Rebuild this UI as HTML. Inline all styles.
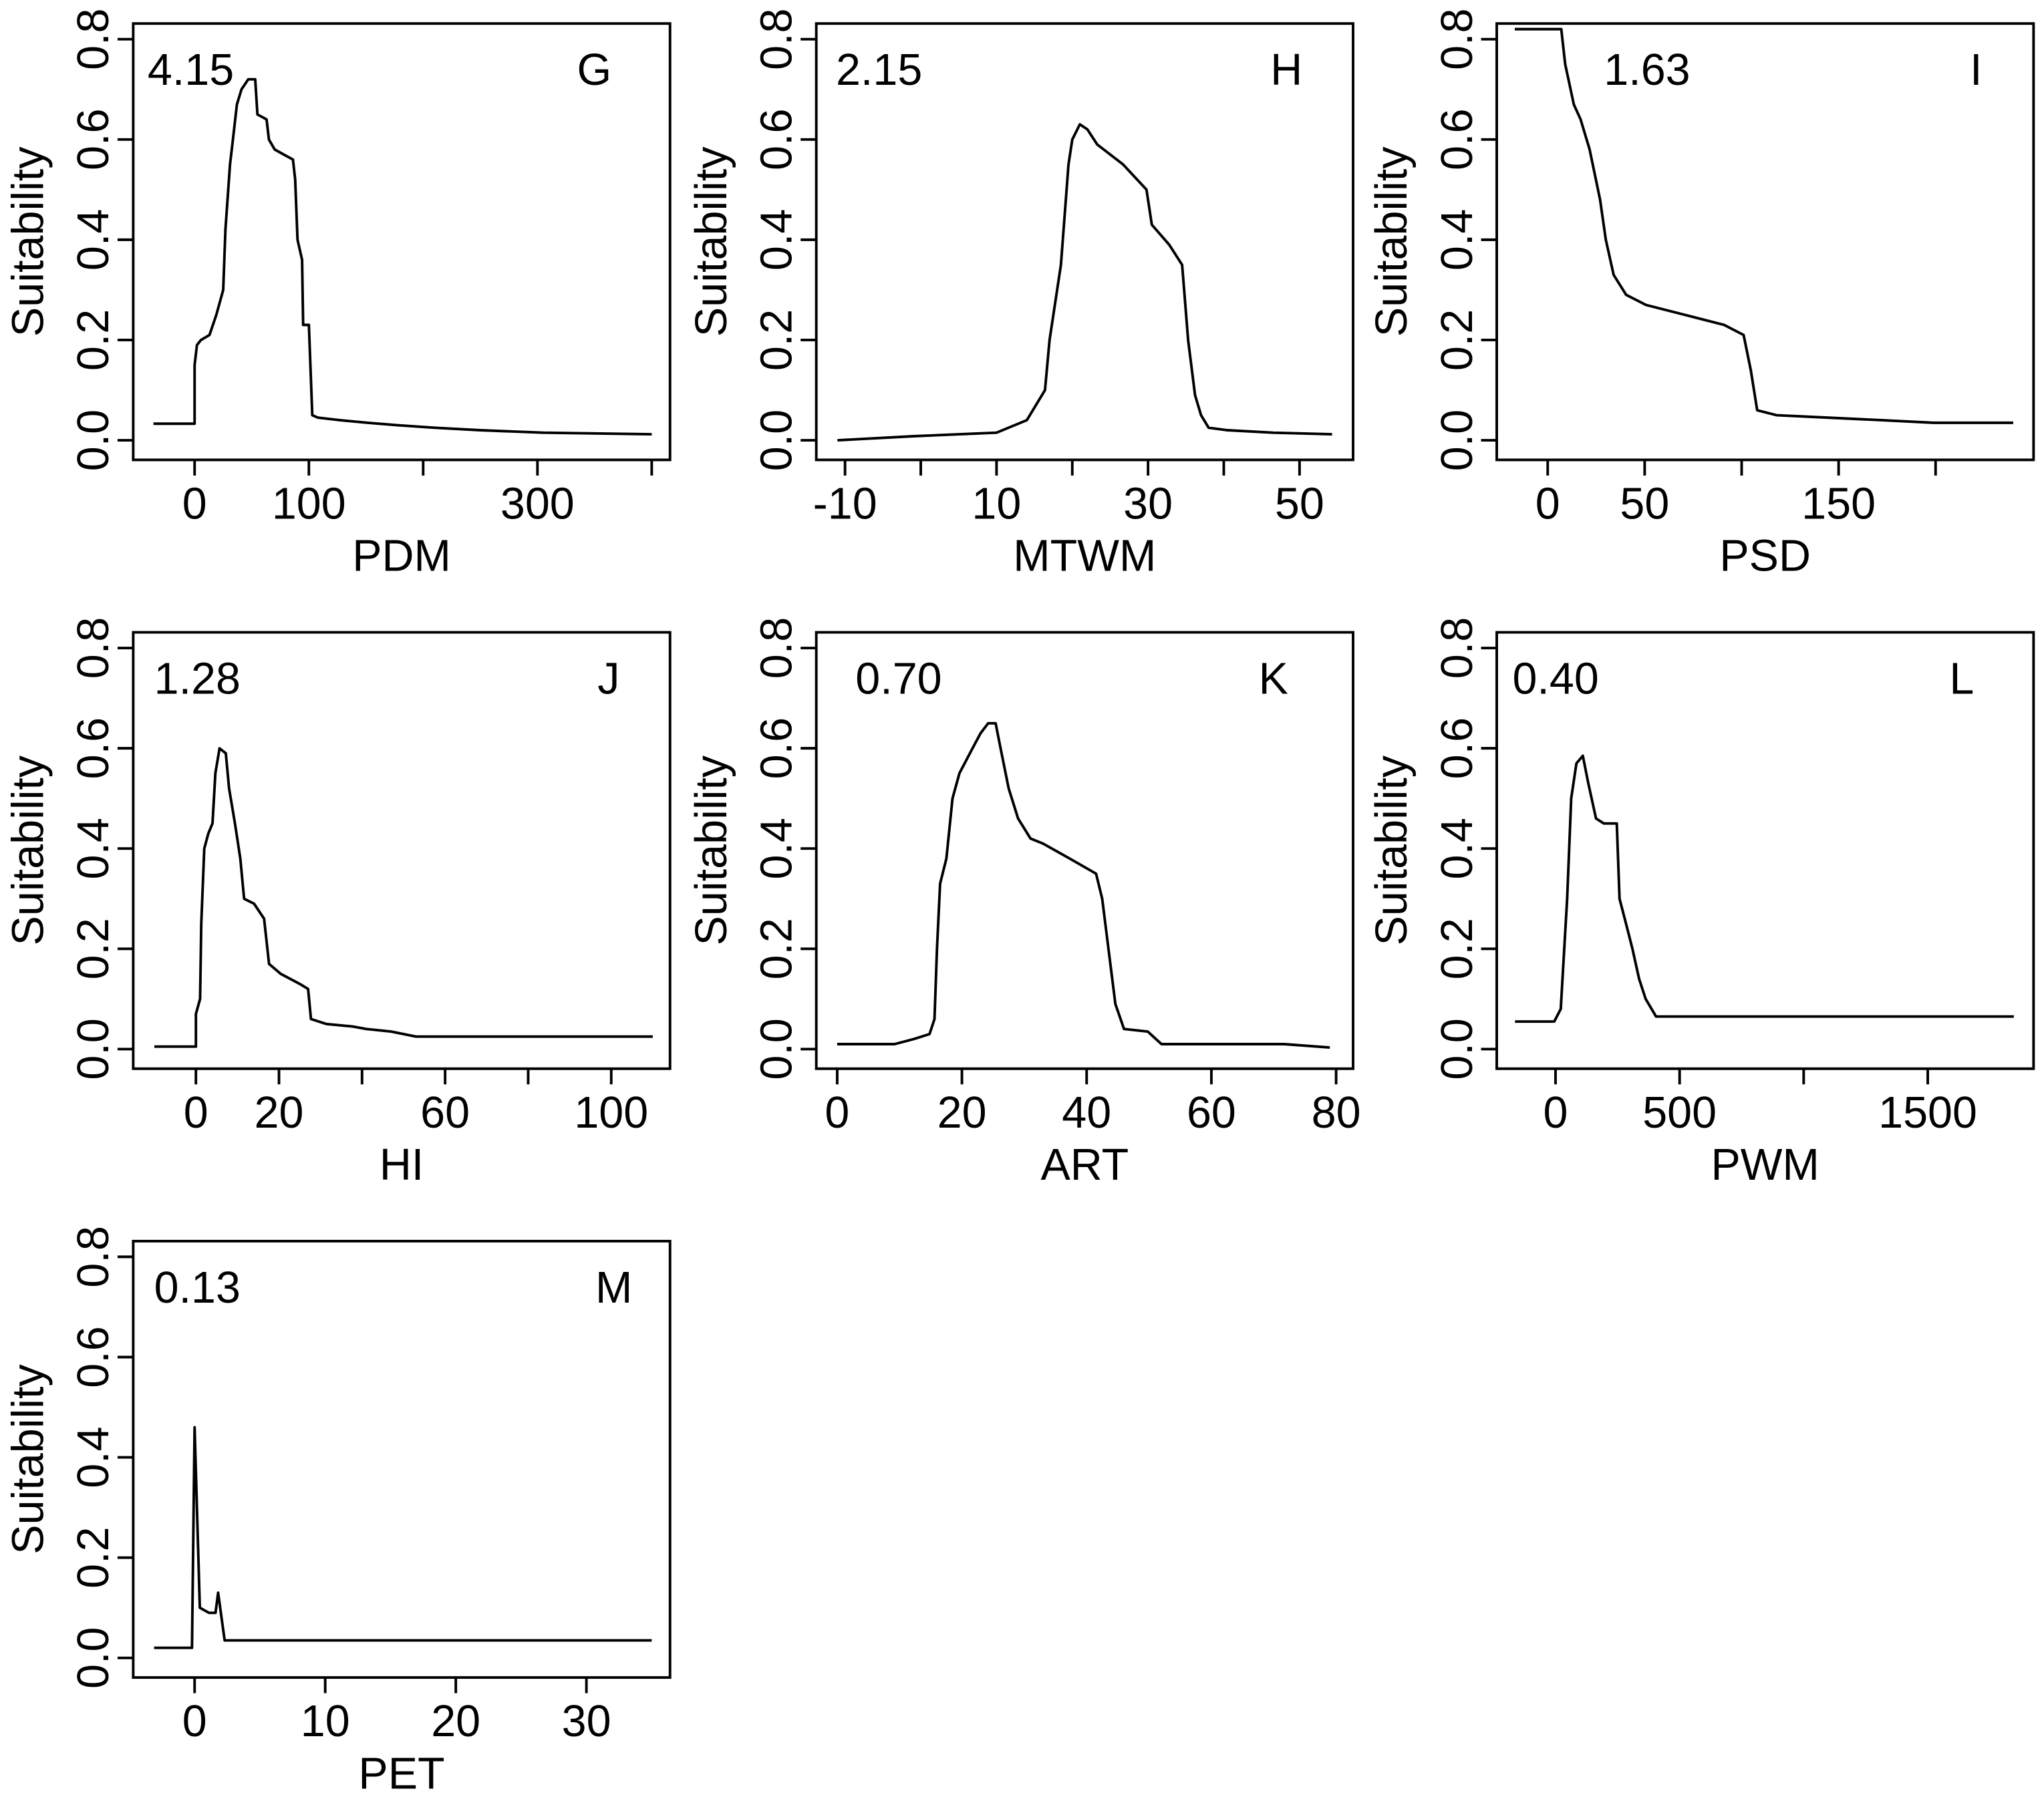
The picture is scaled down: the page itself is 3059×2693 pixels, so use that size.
<!DOCTYPE html>
<html><head><meta charset="utf-8"><style>
html,body{margin:0;padding:0;background:#fff;}
svg{display:block;font-family:"Liberation Sans",Arial,sans-serif;}
</style></head><body>
<svg id="chart" width="3059" height="2693" viewBox="0 0 1565 1377" preserveAspectRatio="none" xmlns="http://www.w3.org/2000/svg"></svg>
<script>
const yTicks = [0, 0.2, 0.4, 0.6, 0.8];
const yTickLabels = ["0.0", "0.2", "0.4", "0.6", "0.8"];

const pdmX = [-36,0,0,2,5.5,13,19,25,27,31,33,37,41,47,53,55,63,65,70,78,86,88,90,94,95,100,103,108,127,151,178,210,250,305,400];
const pdmY = [0.033,0.033,0.15,0.19,0.2,0.21,0.25,0.3,0.42,0.55,0.59,0.67,0.7,0.72,0.72,0.65,0.64,0.6,0.58,0.57,0.56,0.52,0.4,0.36,0.23,0.23,0.05,0.045,0.04,0.035,0.03,0.025,0.02,0.015,0.012];
const mtwmX = [-11,-1,10,14,16.4,17,18.5,19.5,20,21,22,23.3,26.7,29.8,30.5,32.8,34.5,35.3,36.2,37,38,40.5,46.5,54.3];
const mtwmY = [0,0.008,0.015,0.04,0.1,0.2,0.35,0.55,0.6,0.63,0.62,0.59,0.55,0.5,0.43,0.39,0.35,0.2,0.09,0.05,0.025,0.02,0.015,0.012];
const psdX = [-17,7,9,13.5,17,21.6,27,30,34,40.5,50.7,71,91,101,104.7,108,118,145,172,199,240];
const psdY = [0.82,0.82,0.75,0.67,0.64,0.58,0.48,0.4,0.33,0.29,0.27,0.25,0.23,0.21,0.14,0.06,0.05,0.045,0.04,0.035,0.035];
const hiX = [-10,0,0,1,1.3,2,3,4,4.7,5.7,7.2,8,9.4,10.7,11.6,14,16.4,17.6,20.4,25,27,27.7,31.4,37.7,41,47,53,110];
const hiY = [0.005,0.005,0.07,0.1,0.25,0.4,0.43,0.45,0.55,0.6,0.59,0.52,0.45,0.38,0.3,0.29,0.26,0.17,0.15,0.13,0.12,0.06,0.05,0.045,0.04,0.035,0.025,0.025];
const artX = [0,9.2,12.3,14.8,15.6,16,16.5,17.5,18.5,19.6,21.7,23,24.2,25.4,26.2,27.5,29,31,33,37.3,41.5,42.5,43.5,44.6,46,49.8,52,71.7,79];
const artY = [0.01,0.01,0.02,0.03,0.06,0.2,0.33,0.38,0.5,0.55,0.6,0.63,0.65,0.65,0.6,0.52,0.46,0.42,0.41,0.38,0.35,0.3,0.2,0.09,0.04,0.035,0.01,0.01,0.003];
const pwmX = [-163,-5,21,47,63,84,110,132,163,195,247,258,284,310,337,363,405,1847];
const pwmY = [0.055,0.055,0.08,0.3,0.5,0.57,0.585,0.53,0.46,0.45,0.45,0.3,0.25,0.2,0.14,0.1,0.065,0.065];
const petX = [-3.1,-0.2,0,0.4,1.1,1.6,1.8,2.3,35];
const petY = [0.02,0.02,0.46,0.1,0.09,0.09,0.13,0.035,0.035];

const pdmTicks=[0,100,200,300,400], pdmLabels=["0","100","","300",""];
const mtwmTicks=[-10,0,10,20,30,40,50], mtwmLabels=["-10","","10","","30","","50"];
const psdTicks=[0,50,100,150,200], psdLabels=["0","50","","150",""];
const hiTicks=[0,20,40,60,80,100], hiLabels=["0","20","","60","","100"];
const artTicks=[0,20,40,60,80], artLabels=["0","20","40","60","80"];
const pwmTicks=[0,500,1000,1500], pwmLabels=["0","500","","1500"];
const petTicks=[0,10,20,30], petLabels=["0","10","20","30"];

const panels = [
 {id:"g",x0:102,y0:18,xl:"PDM",val:"4.15",valX:113,letter:"G",letX:455,xs:pdmX,ys:pdmY,t:pdmTicks,tl:pdmLabels,dx0:0,px0:149,dx1:400,px1:499},
 {id:"h",x0:625,y0:18,xl:"MTWM",val:"2.15",valX:640,letter:"H",letX:985,xs:mtwmX,ys:mtwmY,t:mtwmTicks,tl:mtwmLabels,dx0:-10,px0:647,dx1:50,px1:995},
 {id:"i",x0:1146,y0:18,xl:"PSD",val:"1.63",valX:1228,letter:"I",letX:1513,xs:psdX,ys:psdY,t:psdTicks,tl:psdLabels,dx0:0,px0:1185,dx1:200,px1:1482},
 {id:"j",x0:102,y0:484,xl:"HI",val:"1.28",valX:118,letter:"J",letX:466,xs:hiX,ys:hiY,t:hiTicks,tl:hiLabels,dx0:0,px0:150,dx1:100,px1:468},
 {id:"k",x0:625,y0:484,xl:"ART",val:"0.70",valX:655,letter:"K",letX:975,xs:artX,ys:artY,t:artTicks,tl:artLabels,dx0:0,px0:641,dx1:80,px1:1023},
 {id:"l",x0:1146,y0:484,xl:"PWM",val:"0.40",valX:1158,letter:"L",letX:1502,xs:pwmX,ys:pwmY,t:pwmTicks,tl:pwmLabels,dx0:0,px0:1191,dx1:1500,px1:1476},
 {id:"m",x0:102,y0:950,xl:"PET",val:"0.13",valX:118,letter:"M",letX:470,xs:petX,ys:petY,t:petTicks,tl:petLabels,dx0:0,px0:149,dx1:30,px1:449}
];
const NS="http://www.w3.org/2000/svg";
const svg=document.getElementById("chart");
function mk(tag,attrs,parent){const e=document.createElementNS(NS,tag);for(const k in attrs)e.setAttribute(k,attrs[k]);(parent||svg).appendChild(e);return e;}
const W=411,H=334,FS=34;
panels.forEach(p=>{
  const g=mk("g",{});
  
  
  const sx=v=>p.px0+(v-p.dx0)*(p.px1-p.px0)/(p.dx1-p.dx0);
  const y0v=p.y0+319, y8v=p.y0+12;
  const sy=v=>y0v+(v)*(y8v-y0v)/0.8;
  const box=mk("rect",{x:p.x0,y:p.y0,width:W,height:H,fill:"none",stroke:"#000","stroke-width":2},g);
  
  
  yTicks.forEach((v,i)=>{
    const ln=mk("line",{x1:p.x0,x2:p.x0-12,y1:sy(v),y2:sy(v),stroke:"#000","stroke-width":2},g);
    
    
    const tx=mk("text",{x:0,y:0,"font-size":FS,"text-anchor":"middle",transform:`translate(${p.x0-19},${sy(v)}) rotate(-90)`},g);
    tx.textContent=yTickLabels[i];
    
    
  });
  p.t.forEach((v,i)=>{
    const ln=mk("line",{x1:sx(v),x2:sx(v),y1:p.y0+H,y2:p.y0+H+12,stroke:"#000","stroke-width":2},g);
    
    
    if(p.tl[i]){
      const tx=mk("text",{x:sx(v),y:p.y0+H+45,"font-size":FS,"text-anchor":"middle"},g);
      tx.textContent=p.tl[i];
      
      
    }
  });
  const yt=mk("text",{x:0,y:0,"font-size":FS,"text-anchor":"middle",transform:`translate(${p.x0-69},${p.y0+H/2}) rotate(-90)`},g);
  yt.textContent="Suitability";
  
  
  const xt=mk("text",{x:p.x0+W/2,y:p.y0+H+85,"font-size":FS,"text-anchor":"middle"},g);
  xt.textContent=p.xl;
  
  
  const vt=mk("text",{x:p.valX,y:p.y0+47,"font-size":FS},g);
  vt.textContent=p.val;
  
  
  const lt=mk("text",{x:p.letX,y:p.y0+47,"font-size":FS,"text-anchor":"middle"},g);
  lt.textContent=p.letter;
  
  
  const pts=p.xs.map((x,i)=>sx(x).toFixed(1)+","+sy(p.ys[i]).toFixed(1)).join(" ");
  const pl=mk("polyline",{points:pts,fill:"none",stroke:"#000","stroke-width":2,"stroke-linejoin":"round"},g);
  
  
});
</script>
</body></html>
